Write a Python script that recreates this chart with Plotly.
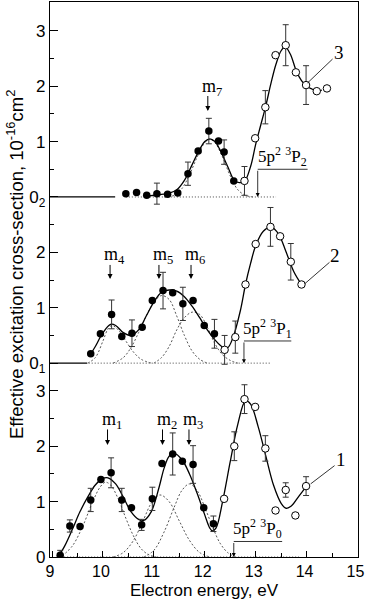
import plotly.graph_objects as go

# vertical shift of each stacked curve (curve 1, 2, 3)
OFFSETS = [0.0, 3.5, 6.5]

# ---- curve 1 : 5p2 3P0 ----
E1_FILLED = [9.16, 9.35, 9.55, 9.76, 9.96, 10.16, 10.37, 10.56, 10.76, 10.97, 11.16, 11.37, 11.56, 11.77, 11.98, 12.17]
Q1_FILLED = [0.03, 0.56, 0.55, 1.03, 1.40, 1.52, 1.03, 0.89, 0.58, 1.05, 1.69, 1.86, 1.73, 1.67, 0.89, 0.60]
D1_FILLED = [0.09, 0.11, 0, 0.21, 0, 0.27, 0.21, 0, 0.10, 0.21, 0, 0.38, 0, 0.34, 0, 0.14]
E1_OPEN = [12.38, 12.58, 12.78, 12.99, 13.19, 13.39, 13.59, 13.78, 13.99]
Q1_OPEN = [1.05, 2.00, 2.85, 2.71, 1.96, 0.84, 1.21, 0.75, 1.28]
D1_OPEN = [0, 0.26, 0.26, 0, 0.23, 0, 0.13, 0, 0.17]
E1_FIT = [9.12, 9.25, 9.4, 9.55, 9.7, 9.85, 10.0, 10.1, 10.25, 10.4, 10.55, 10.7, 10.8, 10.95, 11.1, 11.2,
          11.3, 11.4, 11.55, 11.7, 11.85, 12.0, 12.1, 12.15, 12.22, 12.35, 12.5, 12.65, 12.8, 12.9, 13.05,
          13.2, 13.35, 13.5, 13.6, 13.7, 13.85, 14.0]
Q1_FIT = [0.0, 0.2, 0.5, 0.82, 1.08, 1.3, 1.42, 1.43, 1.32, 1.08, 0.82, 0.68, 0.66, 0.82, 1.25, 1.6,
          1.82, 1.87, 1.76, 1.5, 1.15, 0.76, 0.52, 0.47, 0.52, 1.0, 1.72, 2.4, 2.82, 2.76, 2.35,
          1.82, 1.3, 0.97, 0.88, 0.92, 1.1, 1.28]
E_M1 = [9.2, 9.4, 9.6, 9.8, 9.95, 10.05, 10.15, 10.3, 10.45, 10.6, 10.75, 10.9, 11.05]
Q_M1 = [0.02, 0.2, 0.55, 1.0, 1.27, 1.35, 1.3, 1.05, 0.7, 0.38, 0.15, 0.04, 0.0]
E_M2 = [10.2, 10.4, 10.6, 10.8, 10.95, 11.12, 11.3, 11.5, 11.7, 11.9, 12.1]
Q_M2 = [0.0, 0.08, 0.3, 0.68, 0.97, 1.12, 1.0, 0.65, 0.3, 0.08, 0.0]
E_M3 = [10.8, 11.0, 11.2, 11.4, 11.55, 11.7, 11.85, 12.0, 12.15, 12.3, 12.45, 12.6]
Q_M3 = [0.0, 0.12, 0.45, 0.9, 1.2, 1.32, 1.2, 0.9, 0.55, 0.25, 0.08, 0.0]

# ---- curve 2 : 5p2 3P1 ----
E2_FILLED = [9.76, 9.95, 10.17, 10.37, 10.57, 10.77, 10.97, 11.18, 11.37, 11.57, 11.77, 11.99, 12.19]
Q2_FILLED = [0.17, 0.53, 0.88, 0.48, 0.54, 0.65, 1.13, 1.31, 1.27, 1.07, 1.13, 0.68, 0.53]
D2_FILLED = [0, 0, 0.26, 0, 0.24, 0, 0, 0.33, 0, 0.30, 0, 0, 0.26]
E2_OPEN = [12.39, 12.60, 12.80, 13.00, 13.29, 13.48, 13.69, 13.90]
Q2_OPEN = [0.24, 0.47, 1.42, 2.15, 2.46, 2.29, 1.83, 1.42]
D2_OPEN = [0.26, 0.29, 0, 0, 0.35, 0, 0.33, 0]
E2_FIT = [9.73, 9.85, 10.0, 10.15, 10.25, 10.4, 10.55, 10.7, 10.85, 11.0, 11.15, 11.3, 11.45, 11.6,
          11.75, 11.9, 12.05, 12.2, 12.35, 12.45, 12.55, 12.7, 12.8, 12.9, 13.0, 13.15, 13.3, 13.45,
          13.6, 13.75, 13.9]
Q2_FIT = [0.12, 0.3, 0.55, 0.7, 0.68, 0.55, 0.5, 0.6, 0.85, 1.1, 1.28, 1.32, 1.3, 1.2,
          1.03, 0.82, 0.6, 0.42, 0.29, 0.28, 0.45, 0.95, 1.42, 1.8, 2.12, 2.38, 2.46, 2.33,
          2.0, 1.65, 1.42]
E_M4 = [9.7, 9.85, 10.0, 10.1, 10.18, 10.3, 10.45, 10.6, 10.75, 10.95]
Q_M4 = [0.0, 0.1, 0.4, 0.62, 0.68, 0.6, 0.4, 0.2, 0.07, 0.0]
E_M5 = [10.2, 10.4, 10.55, 10.7, 10.85, 11.0, 11.15, 11.3, 11.45, 11.6, 11.75, 11.9, 12.05]
Q_M5 = [0.0, 0.1, 0.28, 0.55, 0.85, 1.1, 1.22, 1.15, 0.85, 0.5, 0.22, 0.07, 0.0]
E_M6 = [11.0, 11.15, 11.3, 11.45, 11.6, 11.75, 11.9, 12.05, 12.2, 12.35, 12.5, 12.65]
Q_M6 = [0.0, 0.1, 0.3, 0.6, 0.82, 0.92, 0.88, 0.65, 0.35, 0.15, 0.05, 0.0]

# ---- curve 3 : 5p2 3P2 ----
E3_FILLED = [10.45, 10.66, 10.86, 11.06, 11.27, 11.47, 11.67, 11.87, 12.08, 12.27, 12.38, 12.57]
Q3_FILLED = [0.06, 0.08, 0.03, 0.06, 0.05, 0.07, 0.42, 0.83, 1.19, 1.01, 0.81, 0.29]
D3_FILLED = [0, 0, 0, 0.19, 0, 0, 0.21, 0, 0.23, 0, 0.22, 0]
E3_OPEN = [12.78, 12.99, 13.19, 13.39, 13.59, 13.79, 13.99, 14.20, 14.40]
Q3_OPEN = [0.29, 1.06, 1.62, 2.56, 2.74, 2.25, 2.02, 1.91, 1.96]
D3_OPEN = [0.26, 0, 0.30, 0, 0.37, 0, 0.35, 0, 0]
E3_FIT = [10.9, 11.1, 11.3, 11.45, 11.6, 11.75, 11.9, 12.0, 12.1, 12.2, 12.3, 12.45, 12.58, 12.68,
          12.78, 12.9, 13.0, 13.1, 13.2, 13.3, 13.4, 13.5, 13.58, 13.68, 13.8, 13.9, 14.0, 14.1, 14.2, 14.3]
Q3_FIT = [0.02, 0.04, 0.07, 0.13, 0.3, 0.58, 0.86, 1.0, 1.05, 1.0, 0.85, 0.55, 0.3, 0.26,
          0.28, 0.55, 0.95, 1.3, 1.65, 2.05, 2.4, 2.64, 2.71, 2.58, 2.27, 2.1, 2.0, 1.95, 1.92, 1.93]
E_M7 = [11.2, 11.4, 11.55, 11.7, 11.85, 12.0, 12.1, 12.2, 12.35, 12.5, 12.65, 12.8, 12.95]
Q_M7 = [0.0, 0.03, 0.15, 0.4, 0.72, 0.98, 1.04, 0.98, 0.72, 0.38, 0.13, 0.03, 0.0]

# dotted zero line of the components, per curve
BASE_START = [9.12, 9.72, 10.45]
BASE_END = [13.85, 13.3, 13.4]
# solid zero line piece at the left for curves 2 and 3
ZERO_END = [None, 9.69, 10.24]

# peak markers m1..m7
M_NAMES = ["m<sub>1</sub>", "m<sub>2</sub>", "m<sub>3</sub>", "m<sub>4</sub>",
           "m<sub>5</sub>", "m<sub>6</sub>", "m<sub>7</sub>"]
M_ENERGY = [10.09, 11.17, 11.69, 10.14, 11.10, 11.73, 12.06]
M_CURVE = [0, 0, 0, 1, 1, 1, 2]
M_ARROW_TOP = [2.33, 1.80, 1.85]
M_ARROW_TIP = [2.02, 1.52, 1.55]

# thresholds of 5p2 3P levels
LEVEL_NAMES = ["5p<sup>2</sup> <sup>3</sup>P<sub>0</sub>", "5p<sup>2</sup> <sup>3</sup>P<sub>1</sub>",
               "5p<sup>2</sup> <sup>3</sup>P<sub>2</sub>"]
LEVEL_ENERGY = [12.57, 12.77, 13.04]
LEVEL_BAR_END = [13.52, 13.70, 14.02]
LEVEL_BAR_Q = [0.28, 0.40, 0.50]

# curve numbers with leader lines
CURVE_NAMES = ["1", "2", "3"]
LEADER_E = [[14.08, 14.55], [13.96, 14.45], [14.02, 14.51]]
LEADER_Q = [[1.32, 1.65], [1.43, 1.82], [2.06, 2.49]]

X_TICKS = [9, 10, 11, 12, 13, 14, 15]
Y_TICKS = [0, 1, 2, 3, 0, 1, 2, 0, 1, 2, 3]
Y_TICK_CURVE = [0, 0, 0, 0, 1, 1, 1, 2, 2, 2, 2]

SERIF = "Liberation Serif"
SANS = "Liberation Sans"


def shift(vals, k):
    return [v + OFFSETS[k] for v in vals]


fig = go.Figure()

curves = [
    (E1_FILLED, Q1_FILLED, D1_FILLED, E1_OPEN, Q1_OPEN, D1_OPEN, E1_FIT, Q1_FIT,
     [(E_M1, Q_M1), (E_M2, Q_M2), (E_M3, Q_M3)]),
    (E2_FILLED, Q2_FILLED, D2_FILLED, E2_OPEN, Q2_OPEN, D2_OPEN, E2_FIT, Q2_FIT,
     [(E_M4, Q_M4), (E_M5, Q_M5), (E_M6, Q_M6)]),
    (E3_FILLED, Q3_FILLED, D3_FILLED, E3_OPEN, Q3_OPEN, D3_OPEN, E3_FIT, Q3_FIT,
     [(E_M7, Q_M7)]),
]

for k, (ef, qf, df, eo, qo, do, efit, qfit, comps) in enumerate(curves):
    # dotted baseline
    fig.add_trace(go.Scatter(x=[BASE_START[k], BASE_END[k]], y=shift([0, 0], k), mode="lines",
                             line=dict(color="#444", width=1, dash="1px,2px")))
    if ZERO_END[k] is not None:
        fig.add_trace(go.Scatter(x=[8.9, ZERO_END[k]], y=shift([0, 0], k), mode="lines",
                                 line=dict(color="black", width=1.3)))
    for ec, qc in comps:
        fig.add_trace(go.Scatter(x=ec, y=shift(qc, k), mode="lines", line_shape="spline",
                                 line=dict(color="#555", width=1, dash="2px,2px")))
    fig.add_trace(go.Scatter(x=efit, y=shift(qfit, k), mode="lines", line_shape="spline",
                             line=dict(color="black", width=1.3)))
    fig.add_trace(go.Scatter(x=ef, y=shift(qf, k), mode="markers",
                             marker=dict(size=7.5, color="black"),
                             error_y=dict(type="data", array=df, color="#333", thickness=1, width=3)))
    fig.add_trace(go.Scatter(x=eo, y=shift(qo, k), mode="markers",
                             marker=dict(size=7.5, color="white", line=dict(color="black", width=1)),
                             error_y=dict(type="data", array=do, color="#333", thickness=1, width=3)))
    # leader line to the curve number
    fig.add_trace(go.Scatter(x=LEADER_E[k], y=shift(LEADER_Q[k], k), mode="lines",
                             line=dict(color="black", width=0.8)))
    fig.add_annotation(x=LEADER_E[k][1], y=LEADER_Q[k][1] + OFFSETS[k], text=CURVE_NAMES[k],
                       showarrow=False, xanchor="left", yanchor="bottom", xshift=-1, yshift=-6,
                       font=dict(family=SERIF, size=19, color="black"))
    # threshold bracket
    fig.add_trace(go.Scatter(x=[LEVEL_ENERGY[k], LEVEL_BAR_END[k]], y=shift([LEVEL_BAR_Q[k]] * 2, k),
                             mode="lines", line=dict(color="black", width=0.8)))
    fig.add_annotation(x=LEVEL_ENERGY[k], y=OFFSETS[k], ax=LEVEL_ENERGY[k], ay=LEVEL_BAR_Q[k] + OFFSETS[k],
                       axref="x", ayref="y", text="", showarrow=True, arrowhead=2, arrowsize=1,
                       arrowwidth=0.8, arrowcolor="black")
    fig.add_annotation(x=(LEVEL_ENERGY[k] + LEVEL_BAR_END[k]) / 2, y=LEVEL_BAR_Q[k] + OFFSETS[k],
                       text=LEVEL_NAMES[k], showarrow=False, yanchor="bottom", yshift=-2,
                       font=dict(family=SERIF, size=17, color="black"))

for name, e, k in zip(M_NAMES, M_ENERGY, M_CURVE):
    fig.add_annotation(x=e, y=M_ARROW_TIP[k] + OFFSETS[k], ax=e, ay=M_ARROW_TOP[k] + OFFSETS[k],
                       axref="x", ayref="y", text="", showarrow=True, arrowhead=2, arrowsize=1,
                       arrowwidth=1, arrowcolor="black")
    fig.add_annotation(x=e, y=M_ARROW_TOP[k] + OFFSETS[k], text=name, showarrow=False,
                       yanchor="bottom", xshift=4, yshift=-6,
                       font=dict(family=SERIF, size=18, color="black"))

tick_vals = [t + OFFSETS[c] for t, c in zip(Y_TICKS, Y_TICK_CURVE)]
tick_text = []
for t, c in zip(Y_TICKS, Y_TICK_CURVE):
    if t == 0 and c > 0:
        tick_text.append(f"0<sub>{c}</sub>")
    else:
        tick_text.append(str(t))

fig.add_annotation(xref="paper", yref="paper", x=0, y=0.526, xshift=-35, xanchor="center",
                   yanchor="middle", textangle=-90,
                   text="Effective excitation cross-section, 10<sup>-16</sup>cm<sup>2</sup>",
                   showarrow=False, font=dict(family=SANS, size=18.5, color="black"))

fig.update_layout(
    width=365, height=608,
    margin=dict(l=50, r=7, t=2, b=51),
    plot_bgcolor="white", paper_bgcolor="white",
    showlegend=False, hovermode=False,
    font=dict(family=SANS, size=17, color="black"),
    xaxis=dict(range=[8.96, 15.01], tickvals=X_TICKS, ticks="inside", ticklen=6,
               tickwidth=1, tickcolor="black", showline=True, linecolor="black", linewidth=1.3,
               mirror=True, showgrid=False, zeroline=False, ticklabeloverflow="allow",
               automargin=False, tickfont=dict(size=16), ticklabelshift=-2,
               minor=dict(tickvals=[9.5, 10.5, 11.5, 12.5, 13.5, 14.5], ticks="inside", ticklen=4,
                          tickcolor="black"),
               title=dict(text="Electron energy, eV", font=dict(size=17), standoff=4)),
    yaxis=dict(range=[0, 10.02], tickvals=tick_vals, ticktext=tick_text, ticks="inside", ticklen=8,
               tickwidth=1, tickcolor="black", showline=True, linecolor="black", linewidth=1.3,
               mirror=True, showgrid=False, zeroline=False, automargin=False,
               minor=dict(tickvals=[0.5, 1.5, 2.5, 4.0, 5.0, 6.0, 7.0, 8.0, 9.0], ticks="inside",
                          ticklen=4, tickcolor="black")),
)

# the page body keeps its default 8px margin otherwise
fig.write_html("out.html", config={"displayModeBar": False},
               post_script="document.body.style.margin = '0';")
